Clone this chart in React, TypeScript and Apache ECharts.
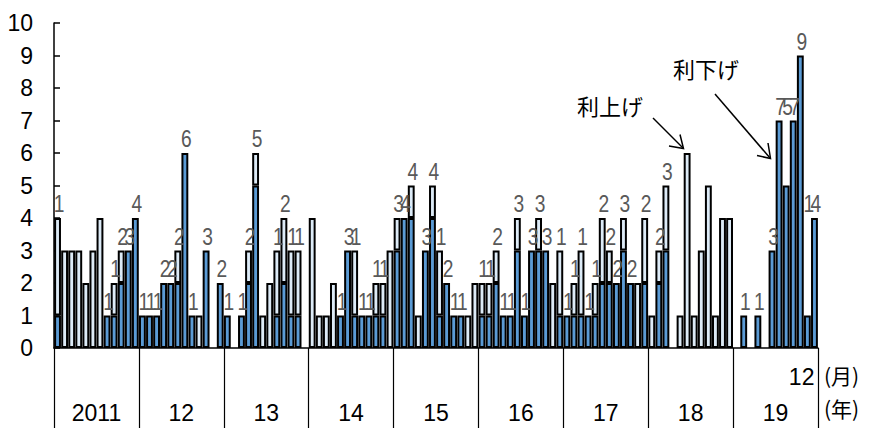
import { useEffect, useRef } from "react";
import * as echarts from "echarts";

// Year labels along the bottom band
const yearLabels = ["2011", "12", "13", "14", "15", "16", "17", "18", "19"];
const monthLabels = ["1", "2", "3", "4", "5", "6", "7", "8", "9", "10", "11", "12"];

// Monthly number of rate cuts (dark columns)
const cuts2011 = [1, 0, 0, 0, 0, 0, 0, 1, 1, 2, 3, 4];
const cuts2012 = [1, 1, 1, 2, 2, 2, 6, 1, 0, 3, 0, 2];
const cuts2013 = [1, 0, 1, 2, 5, 0, 0, 1, 2, 1, 1, 0];
const cuts2014 = [0, 0, 0, 0, 1, 3, 1, 1, 1, 1, 1, 0];
const cuts2015 = [3, 4, 4, 0, 3, 4, 1, 2, 1, 1, 0, 0];
const cuts2016 = [1, 1, 2, 1, 1, 3, 1, 3, 3, 3, 0, 1];
const cuts2017 = [1, 1, 1, 1, 1, 2, 2, 2, 3, 2, 0, 2];
const cuts2018 = [0, 2, 3, 0, 0, 0, 0, 0, 0, 0, 0, 0];
const cuts2019 = [0, 1, 0, 1, 0, 3, 7, 5, 7, 9, 1, 4];

// Monthly number of rate hikes (light columns, stacked on top)
const hikes2011 = [3, 3, 3, 3, 2, 3, 4, 0, 1, 1, 0, 0];
const hikes2012 = [0, 0, 0, 0, 0, 1, 0, 0, 1, 0, 0, 0];
const hikes2013 = [0, 0, 0, 1, 1, 1, 2, 2, 2, 2, 2, 0];
const hikes2014 = [4, 1, 1, 2, 0, 0, 2, 0, 0, 1, 1, 3];
const hikes2015 = [1, 0, 1, 1, 0, 1, 2, 0, 0, 0, 1, 2];
const hikes2016 = [1, 1, 1, 0, 0, 1, 0, 0, 1, 0, 2, 2];
const hikes2017 = [0, 1, 2, 0, 1, 2, 1, 0, 1, 0, 2, 2];
const hikes2018 = [1, 1, 2, 0, 1, 6, 1, 3, 5, 1, 4, 4];
const hikes2019 = [0, 0, 0, 0, 0, 0, 0, 0, 0, 0, 0, 0];

const NUM_FONT = '"Liberation Sans", Arial, sans-serif';
const JP_FONT = '"Noto Sans CJK JP", "Noto Sans CJK SC", sans-serif';

export default function App() {
  const ref = useRef<HTMLDivElement>(null);

  useEffect(() => {
    if (!ref.current) return;
    const chart = echarts.init(ref.current, null, { renderer: "svg" });

    const cuts = [
      ...cuts2011, ...cuts2012, ...cuts2013, ...cuts2014, ...cuts2015,
      ...cuts2016, ...cuts2017, ...cuts2018, ...cuts2019,
    ];
    const hikes = [
      ...hikes2011, ...hikes2012, ...hikes2013, ...hikes2014, ...hikes2015,
      ...hikes2016, ...hikes2017, ...hikes2018, ...hikes2019,
    ];
    const n = cuts.length;
    const categories = cuts.map((_, i) => `${2011 + Math.floor(i / 12)}-${monthLabels[i % 12]}`);
    const totals = cuts.map((c, i) => c + hikes[i]);

    // Value labels sit on top of each column; a label squeezed between two
    // taller cut-only columns is raised to the lower neighbour's height.
    const cutOnly = (i: number) => i >= 0 && i < n && cuts[i] > 0 && hikes[i] === 0;
    const labelPoints: number[][] = [];
    cuts.forEach((c, i) => {
      if (c === 0) return;
      let level = totals[i];
      if (cutOnly(i - 1) && cutOnly(i + 1)) {
        const m = Math.min(totals[i - 1], totals[i + 1]);
        if (m > level) level = m;
      }
      labelPoints.push([i, level, c]);
    });

    chart.setOption({
      animation: false,
      grid: { left: 54, right: 54, top: 23, bottom: 80, containLabel: false },
      xAxis: [
        {
          type: "category",
          data: categories,
          boundaryGap: true,
          axisLine: { show: true, lineStyle: { color: "#000", width: 1.5 } },
          axisTick: { show: false },
          axisLabel: {
            show: true,
            interval: (i: number) => i === n - 1,
            formatter: (_v: string, i: number) => monthLabels[i % 12],
            align: "right",
            margin: 17,
            color: "#000",
            fontSize: 23,
            fontFamily: NUM_FONT,
          },
          splitLine: { show: false },
        },
        {
          type: "category",
          data: yearLabels,
          position: "bottom",
          boundaryGap: true,
          axisLine: { show: false },
          axisTick: {
            show: true,
            inside: false,
            length: 80,
            interval: 0,
            lineStyle: { color: "#000", width: 1.2 },
          },
          axisLabel: {
            show: true,
            interval: 0,
            margin: 53,
            color: "#000",
            fontSize: 23,
            fontFamily: NUM_FONT,
          },
          splitLine: { show: false },
        },
      ],
      yAxis: {
        type: "value",
        min: 0,
        max: 10,
        interval: 1,
        axisLine: { show: true, lineStyle: { color: "#000", width: 1.5 } },
        axisTick: { show: true, inside: true, length: 6, lineStyle: { color: "#000", width: 1.5 } },
        axisLabel: {
          color: "#000",
          fontSize: 23,
          fontFamily: NUM_FONT,
          margin: 21,
        },
        splitLine: { show: false },
      },
      series: [
        {
          name: "利下げ",
          type: "bar",
          stack: "count",
          xAxisIndex: 0,
          barWidth: "97%",
          data: cuts.map((v) => (v === 0 ? "-" : v)),
          itemStyle: { color: "#5B9BD5", borderColor: "#000", borderWidth: 2 },
          silent: true,
        },
        {
          name: "利上げ",
          type: "bar",
          stack: "count",
          xAxisIndex: 0,
          barWidth: "97%",
          data: hikes.map((v) => (v === 0 ? "-" : v)),
          itemStyle: { color: "#DDEBF7", borderColor: "#000", borderWidth: 2 },
          silent: true,
        },
        {
          // value labels, drawn as condensed text above each column
          name: "labels",
          type: "custom",
          xAxisIndex: 0,
          data: labelPoints,
          silent: true,
          z: 5,
          renderItem: (_params: any, api: any) => {
            const pt = api.coord([api.value(0), api.value(1)]);
            return {
              type: "text",
              x: pt[0] + 1.5,
              y: pt[1] - 2,
              scaleX: 0.8,
              style: {
                text: String(api.value(2)),
                fill: "#595959",
                fontSize: 24,
                fontFamily: NUM_FONT,
                align: "center",
                verticalAlign: "bottom",
              },
            };
          },
        },
      ],
      graphic: [
        {
          type: "text",
          left: 824,
          top: 364,
          style: { text: "(月)", fontSize: 21, fontFamily: JP_FONT, fill: "#000" },
        },
        {
          type: "text",
          left: 824,
          top: 397,
          style: { text: "(年)", fontSize: 21, fontFamily: JP_FONT, fill: "#000" },
        },
        {
          type: "text",
          left: 577,
          top: 94,
          style: { text: "利上げ", fontSize: 22, fontFamily: JP_FONT, fill: "#000" },
        },
        {
          type: "text",
          left: 673,
          top: 57,
          style: { text: "利下げ", fontSize: 22, fontFamily: JP_FONT, fill: "#000" },
        },
        {
          type: "line",
          shape: { x1: 653, y1: 118, x2: 683, y2: 148 },
          style: { stroke: "#000", lineWidth: 1.5 },
        },
        {
          type: "polyline",
          shape: { points: [[669, 146], [683.5, 148.5], [680, 134.5]] },
          style: { stroke: "#000", lineWidth: 1.5, fill: null },
        },
        {
          type: "line",
          shape: { x1: 715, y1: 94, x2: 770, y2: 158 },
          style: { stroke: "#000", lineWidth: 1.5 },
        },
        {
          type: "polyline",
          shape: { points: [[757, 155.5], [770.5, 158.5], [768, 143]] },
          style: { stroke: "#000", lineWidth: 1.5, fill: null },
        },
      ],
    });

    return () => chart.dispose();
  }, []);

  return (
    <div
      ref={ref}
      style={{ position: "fixed", left: 0, top: 0, width: 872, height: 428, background: "#fff" }}
    />
  );
}
